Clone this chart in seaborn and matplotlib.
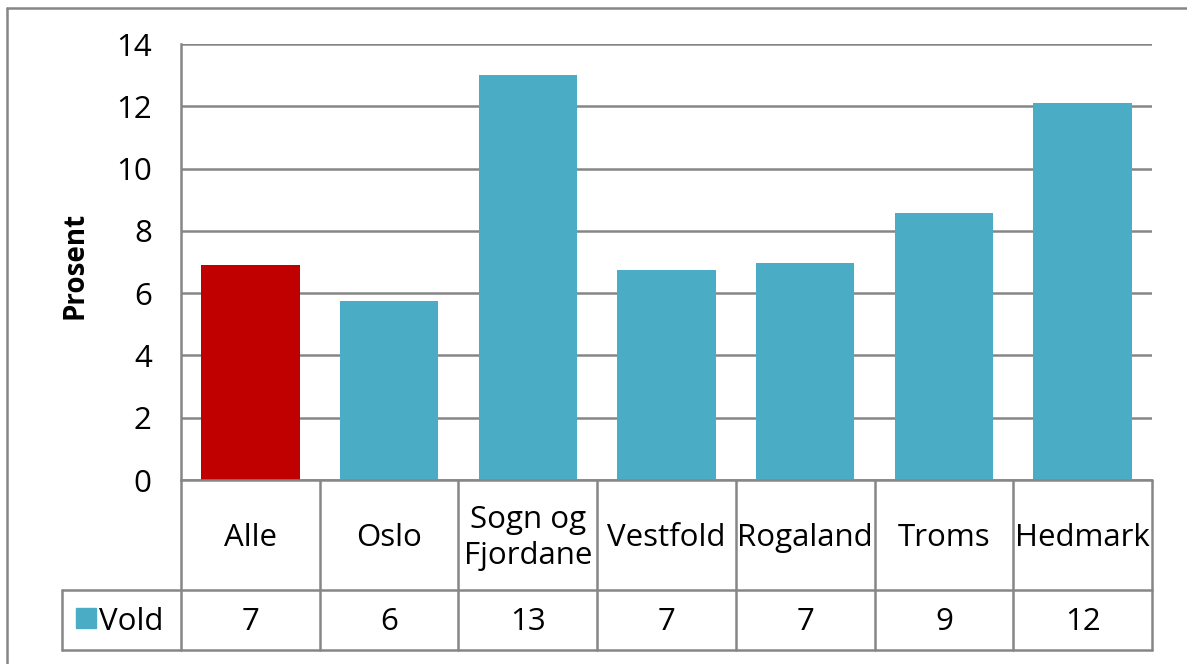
import matplotlib
matplotlib.use("Agg")
import matplotlib.pyplot as plt
import seaborn as sns
import pandas as pd
from matplotlib.transforms import blended_transform_factory
from matplotlib.lines import Line2D
from matplotlib.patches import Rectangle

# ---- data ----
categories = ["Alle", "Oslo", "Sogn og\nFjordane", "Vestfold", "Rogaland", "Troms", "Hedmark"]
values = [6.9, 5.76, 13.0, 6.73, 6.97, 8.57, 12.12]
table_values = ["7", "6", "13", "7", "7", "9", "12"]
series_name = "Vold"
y_label = "Prosent"
yticks = [0, 2, 4, 6, 8, 10, 12, 14]

# ---- style ----
sns.set_theme(style="white")
plt.rcParams['font.family'] = ['Open Sans', 'DejaVu Sans']

RED = "#C00000"
TEAL = "#4BACC6"
GRID = "#868686"
FS = 22.5

W, H = 1187, 664
fig = plt.figure(figsize=(W / 100, H / 100), dpi=100)
L, R, T, B = 181, 1152, 44, 480
ax = fig.add_axes([L / W, 1 - B / H, (R - L) / W, (B - T) / H])

df = pd.DataFrame({"cat": categories, "val": values})
colors = [RED] + [TEAL] * (len(categories) - 1)
sns.barplot(data=df, x="cat", y="val", hue="cat", palette=colors, width=0.71,
            saturation=1, linewidth=0, ax=ax, legend=False)

ax.set_xlim(-0.5, len(categories) - 0.5)
ax.set_ylim(0, 14)
ax.set_yticks(yticks)
ax.set_yticklabels([str(t) for t in yticks])
ax.grid(axis='y', color=GRID, lw=1.8)
ax.grid(axis='x', visible=False)
ax.set_axisbelow(True)
for s in ["top", "right", "bottom"]:
    ax.spines[s].set_visible(False)
ax.spines["left"].set_color(GRID)
ax.spines["left"].set_linewidth(1.8)
ax.set_xticks([])
ax.set_xlabel("")
ax.set_ylabel("")
ax.tick_params(axis='y', length=0, pad=21, labelsize=FS, labelcolor='black')

fig.text(75 / W, 1 - 265 / H, y_label, rotation=90, ha='center', va='center',
         fontsize=20, fontweight='bold', color='black')

# ---- data table ----
trans = blended_transform_factory(ax.transData, ax.transAxes)
axh = B - T
y0 = 0.0
y1 = -(590 - B) / axh
y2 = -(650 - B) / axh
px_per_unit = (R - L) / len(categories)
x_leg = (62 - L) / px_per_unit - 0.5
n = len(categories)

def line(xs, ys):
    ax.add_line(Line2D(xs, ys, transform=trans, color=GRID, lw=1.8, clip_on=False))

for i in range(n + 1):
    line([i - 0.5, i - 0.5], [y0, y2])
line([-0.5, n - 0.5], [y0, y0])
line([x_leg, n - 0.5], [y1, y1])
line([x_leg, n - 0.5], [y2, y2])
line([x_leg, x_leg], [y1, y2])

lab_y = -(538 - B) / axh
val_y = -(622 - B) / axh
for i, (c, v) in enumerate(zip(categories, table_values)):
    ax.text(i, lab_y, c, transform=trans, ha='center', va='center',
            fontsize=FS, color='black', linespacing=1.3, clip_on=False)
    ax.text(i, val_y, v, transform=trans, ha='center', va='center',
            fontsize=FS, color='black', clip_on=False)

sq_x = (76 - L) / px_per_unit - 0.5
sq_w = 20 / px_per_unit
sq_y = -(628 - B) / axh
sq_h = 20 / axh
ax.add_patch(Rectangle((sq_x, sq_y), sq_w, sq_h, transform=trans, color=TEAL, clip_on=False))
ax.text((99 - L) / px_per_unit - 0.5, val_y, series_name, transform=trans,
        ha='left', va='center', fontsize=FS, color='black', clip_on=False)

# ---- outer chart border ----
fig.add_artist(Line2D([7 / W, 1.01], [1 - 8 / H, 1 - 8 / H], transform=fig.transFigure, color=GRID, lw=1.8))
fig.add_artist(Line2D([7 / W, 7 / W], [1 - 8 / H, -0.01], transform=fig.transFigure, color=GRID, lw=1.8))

fig.savefig("out.png", dpi=100)
